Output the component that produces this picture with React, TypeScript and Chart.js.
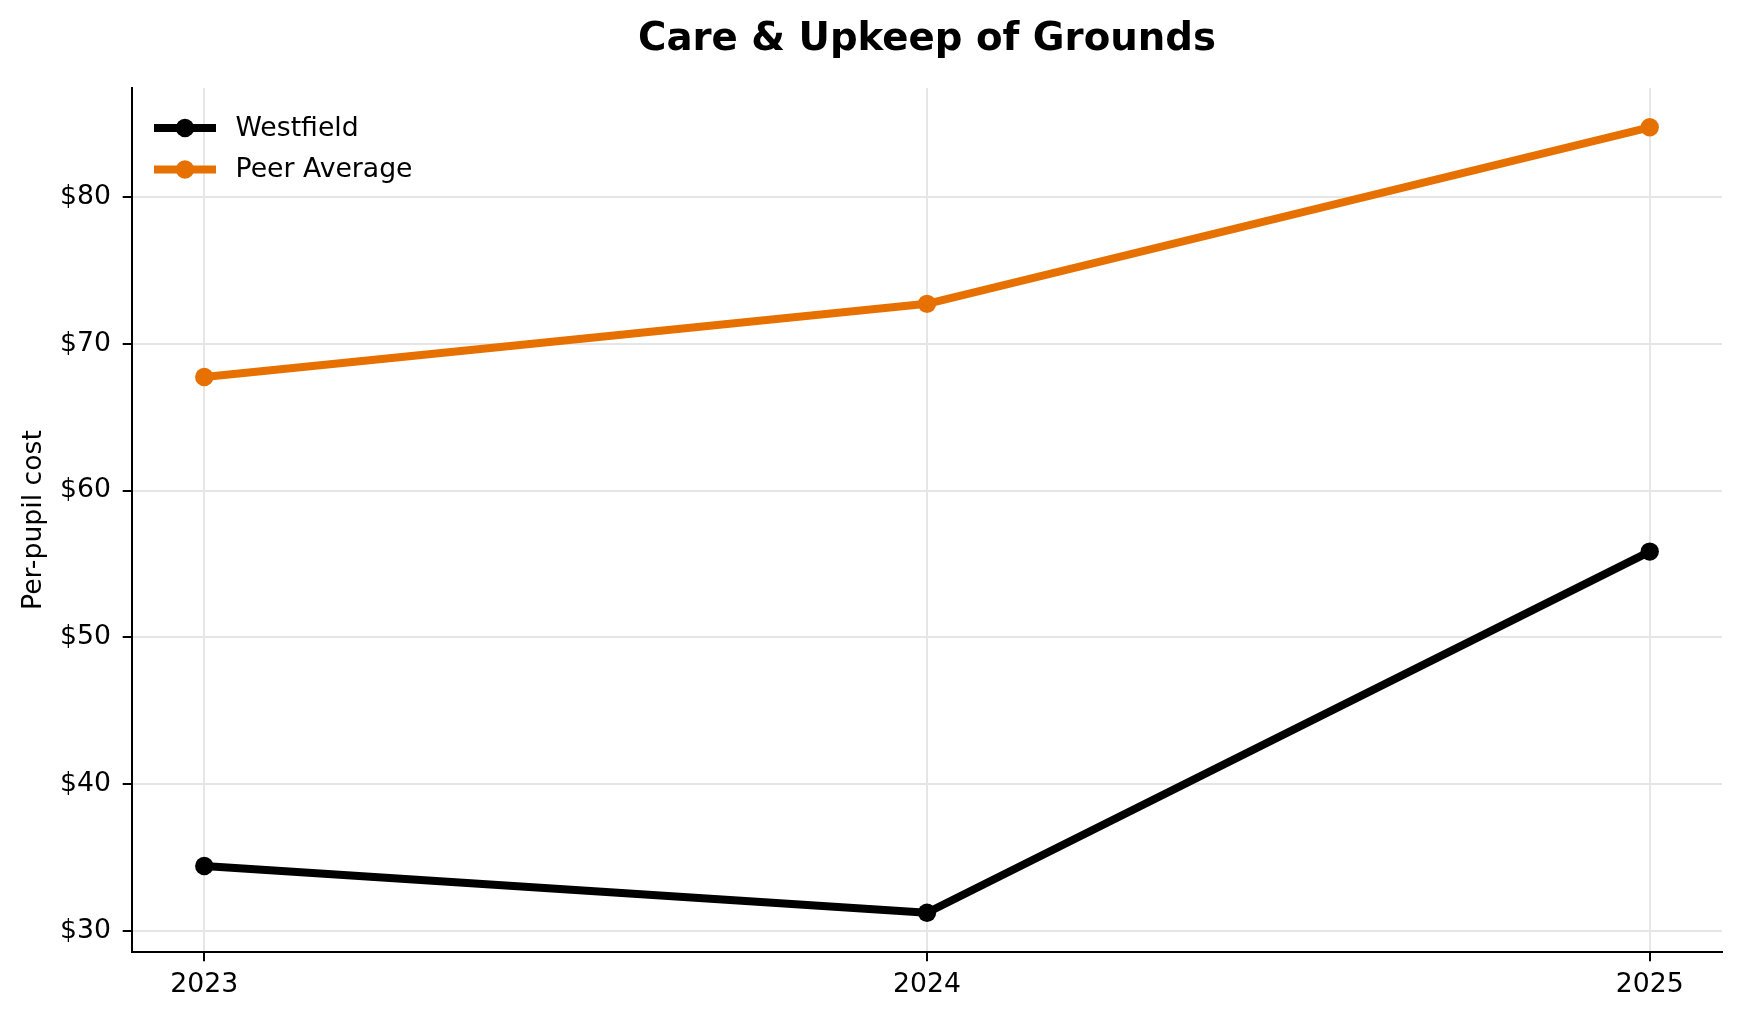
import { useEffect, useRef } from "react"
import { Chart, registerables } from "chart.js"

Chart.register(...registerables)

// values
const years = [2023, 2024, 2025]
const westfield = [34.43, 31.25, 55.84]
const peerAverage = [67.73, 72.71, 84.73]
const yTickValues = [30, 40, 50, 60, 70, 80]

const FONT = "DejaVu Sans"
const ORANGE = "#e67100"

// legend drawn inside the plot area, top-left (like matplotlib's loc="upper left")
const insideLegend = {
  id: "insideLegend",
  afterDraw(chart: Chart) {
    const { ctx, chartArea } = chart
    ctx.save()
    chart.data.datasets.forEach((ds: any, i: number) => {
      const x0 = chartArea.left + 22
      const y = chartArea.top + 40 + i * 41.5
      ctx.strokeStyle = ds.borderColor
      ctx.lineWidth = 8
      ctx.lineCap = "butt"
      ctx.beginPath()
      ctx.moveTo(x0, y)
      ctx.lineTo(x0 + 62, y)
      ctx.stroke()
      ctx.fillStyle = ds.borderColor
      ctx.beginPath()
      ctx.arc(x0 + 31, y, 9.2, 0, Math.PI * 2)
      ctx.fill()
      ctx.fillStyle = "#000"
      ctx.font = `26.7px "${FONT}"`
      ctx.textAlign = "left"
      ctx.textBaseline = "middle"
      ctx.fillText(ds.label, x0 + 81.5, y + 1)
    })
    ctx.restore()
  },
}

export default function App() {
  const chartRef = useRef<HTMLCanvasElement>(null)
  const chartInstance = useRef<Chart | null>(null)

  useEffect(() => {
    if (!chartRef.current) return
    if (chartInstance.current) chartInstance.current.destroy()
    const ctx = chartRef.current.getContext("2d")
    if (!ctx) return

    const tickFont = { family: FONT, size: 26.7 }

    chartInstance.current = new Chart(ctx, {
      type: "line",
      data: {
        datasets: [
          {
            label: "Westfield",
            data: years.map((x, i) => ({ x, y: westfield[i] })),
            borderColor: "#000000",
            backgroundColor: "#000000",
            borderWidth: 8,
            borderJoinStyle: "round",
            pointRadius: 9.2,
            pointBorderWidth: 0,
            pointBackgroundColor: "#000000",
          },
          {
            label: "Peer Average",
            data: years.map((x, i) => ({ x, y: peerAverage[i] })),
            borderColor: ORANGE,
            backgroundColor: ORANGE,
            borderWidth: 8,
            borderJoinStyle: "round",
            pointRadius: 9.2,
            pointBorderWidth: 0,
            pointBackgroundColor: ORANGE,
          },
        ],
      },
      options: {
        animation: false,
        responsive: true,
        maintainAspectRatio: false,
        devicePixelRatio: 1,
        layout: { padding: { left: 0, right: 17, top: 0, bottom: 0 } },
        plugins: {
          legend: { display: false },
          tooltip: { enabled: false },
          title: {
            display: true,
            text: "Care & Upkeep of Grounds",
            color: "#000",
            fullSize: false,
            font: { family: FONT, size: 38.7, weight: "bold", lineHeight: 1.2 },
            padding: { top: 16.9, bottom: 24.7 },
          },
        },
        scales: {
          x: {
            type: "linear",
            min: 2022.9,
            max: 2025.1,
            afterBuildTicks: (scale: any) => {
              scale.ticks = years.map((v) => ({ value: v }))
            },
            afterFit: (scale: any) => {
              scale.height = 67
            },
            ticks: {
              color: "#000",
              font: tickFont,
              padding: 7.5,
              maxRotation: 0,
              callback: (v: any) => String(v),
            },
            grid: {
              color: "#e6e6e6",
              lineWidth: 2,
              drawTicks: true,
              tickLength: 9.3,
              tickColor: "#000",
              tickWidth: 2,
            },
            border: { display: true, color: "#000", width: 2 },
          },
          y: {
            type: "linear",
            min: 28.576,
            max: 87.404,
            afterBuildTicks: (scale: any) => {
              scale.ticks = yTickValues.map((v) => ({ value: v }))
            },
            afterFit: (scale: any) => {
              scale.width = 132
            },
            ticks: {
              color: "#000",
              font: tickFont,
              padding: 11.7,
              callback: (v: any) => `$${v}`,
            },
            grid: {
              color: "#e6e6e6",
              lineWidth: 2,
              drawTicks: true,
              tickLength: 9.3,
              tickColor: "#000",
              tickWidth: 2,
            },
            border: { display: true, color: "#000", width: 2 },
            title: {
              display: true,
              text: "Per-pupil cost",
              color: "#000",
              font: { family: FONT, size: 26.7, lineHeight: 1.2 },
              padding: { top: 17.8, bottom: 0 },
            },
          },
        },
      },
      plugins: [insideLegend],
    })

    return () => {
      if (chartInstance.current) {
        chartInstance.current.destroy()
        chartInstance.current = null
      }
    }
  }, [])

  return (
    <div
      style={{
        position: "fixed",
        left: 0,
        top: 0,
        width: 1739,
        height: 1019,
        background: "#fff",
      }}
    >
      <canvas ref={chartRef} />
    </div>
  )
}
